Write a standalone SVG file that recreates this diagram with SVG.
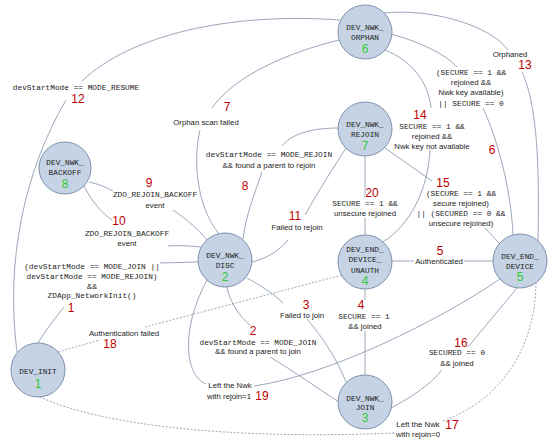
<svg xmlns="http://www.w3.org/2000/svg" width="550" height="446" viewBox="0 0 550 446">
<style>
.bg{fill:#fff}
.c{fill:none;stroke:#8391a8;stroke-width:0.8}
.d{stroke-dasharray:2,1.6}
.node circle{fill:#c5d3e5;stroke:#7e91ae;stroke-width:1}
.nl{font-family:"Liberation Mono",monospace;font-size:7.8px;fill:#1c1c1c;text-anchor:middle}
.ng{font-family:"Liberation Sans",sans-serif;font-size:12px;fill:#33cc33;text-anchor:middle}
.r{font-family:"Liberation Sans",sans-serif;font-size:12px;fill:#c00000;text-anchor:middle}
.m{font-family:"Liberation Mono",monospace;font-size:7.8px;fill:#1c1c1c;text-anchor:middle}
.p{font-family:"Liberation Sans",sans-serif;font-size:7.8px;fill:#1c1c1c;text-anchor:middle}
.lbl text{stroke:#fff;stroke-width:2;paint-order:stroke;stroke-linejoin:round}
</style>
<rect class="bg" x="0" y="0" width="550" height="446"/>
<g id="connectors">
  <!-- 12 -->
  <path class="c" d="M17,352 C5,260 25,170 66,100"/>
  <path class="c" d="M82,81 C130,35 230,12 340,20"/>
  <!-- 7 -->
  <path class="c" d="M339,40 C290,52 235,75 212,108"/>
  <path class="c" d="M200,130 C193,160 196,205 219,234"/>
  <!-- 8 -->
  <path class="c" d="M338,128 C310,128 290,135 282,146"/>
  <path class="c" d="M262,172 C254,195 246,215 243,239"/>
  <!-- 9 -->
  <path class="c" d="M89,182 C98,184 106,187 113,191"/>
  <path class="c" d="M173,210 C185,218 197,228 207,240"/>
  <!-- 10 -->
  <path class="c" d="M84,186 C92,202 102,213 112,220"/>
  <path class="c" d="M168,246 C180,245 191,246 201,247"/>
  <!-- 1 -->
  <path class="c" d="M38,343 C46,330 55,318 64,307"/>
  <path class="c" d="M160,263 L198,262"/>
  <!-- 18 -->
  <path class="c d" d="M58,352 L100,340"/>
  <path class="c d" d="M145,327 L342,275"/>
  <!-- 2 -->
  <path class="c" d="M227,287 C230,303 240,317 251,326"/>
  <path class="c" d="M270,357 C295,372 320,390 339,402"/>
  <!-- 3 -->
  <path class="c" d="M247,278 C262,286 275,295 283,303"/>
  <path class="c" d="M307,319 C325,340 338,362 346,382"/>
  <!-- 19 -->
  <path class="c" d="M500,279 C440,320 330,375 254,386"/>
  <path class="c" d="M206,384 C185,376 180,330 207,280"/>
  <!-- 11 -->
  <path class="c" d="M252,262 C268,258 280,250 288,240"/>
  <path class="c" d="M305,215 C318,192 333,168 346,148"/>
  <!-- 20 -->
  <path class="c" d="M365,156 V198"/>
  <path class="c" d="M365,218 V235"/>
  <!-- 14 -->
  <path class="c" d="M385,50 C410,60 428,80 431,108"/>
  <path class="c" d="M430,150 C428,190 410,225 383,242"/>
  <!-- 6 -->
  <path class="c" d="M391,34 C420,42 445,54 457,67"/>
  <path class="c" d="M483,108 C497,138 511,188 513,235"/>
  <!-- 13 -->
  <path class="c" d="M384,13 C430,8 490,25 508,50"/>
  <path class="c" d="M522,72 C535,100 540,150 538,241"/>
  <!-- 15 -->
  <path class="c" d="M385,148 L432,181"/>
  <path class="c" d="M485,228 L499,243"/>
  <!-- 5 -->
  <path class="c" d="M392,261 H414"/>
  <path class="c" d="M464,261 H493"/>
  <!-- 4 -->
  <path class="c" d="M365,289 V300"/>
  <path class="c" d="M365,331 V375"/>
  <!-- 16 -->
  <path class="c" d="M391,408 C410,398 430,385 442,370"/>
  <path class="c" d="M468,347 L517,288"/>
  <!-- 17 -->
  <path class="c d" d="M40,397 C100,425 230,440 395,433"/>
  <path class="c d" d="M443,421 C500,400 535,350 536,283"/>
</g>
<g id="labels" class="lbl">
  <text class="m" x="76" y="90">devStartMode == MODE_RESUME</text>
  <text class="r" x="78" y="103">12</text>
  <text class="r" x="227" y="111">7</text>
  <text class="p" x="206" y="125">Orphan scan failed</text>
  <text class="m" x="269" y="157">devStartMode == MODE_REJOIN</text>
  <text class="p" x="269" y="168">&amp;&amp; found a parent to rejoin</text>
  <text class="r" x="245" y="190">8</text>
  <text class="r" x="149" y="187">9</text>
  <text class="m" x="155" y="197">ZDO_REJOIN_BACKOFF</text>
  <text class="p" x="155" y="208">event</text>
  <text class="r" x="119" y="225">10</text>
  <text class="m" x="127" y="236">ZDO_REJOIN_BACKOFF</text>
  <text class="p" x="127" y="246">event</text>
  <text class="m" x="92" y="269">(devStartMode == MODE_JOIN ||</text>
  <text class="m" x="92" y="279">devStartMode == MODE_REJOIN)</text>
  <text class="p" x="92" y="289">&amp;&amp;</text>
  <text class="m" x="92" y="298">ZDApp_NetworkInit()</text>
  <text class="r" x="71" y="312">1</text>
  <text class="p" x="124" y="336">Authentication failed</text>
  <text class="r" x="110" y="348">18</text>
  <text class="r" x="253" y="335">2</text>
  <text class="m" x="258" y="345">devStartMode == MODE_JOIN</text>
  <text class="p" x="258" y="354">&amp;&amp; found a parent to join</text>
  <text class="r" x="306" y="309">3</text>
  <text class="p" x="302" y="318">Failed to join</text>
  <text class="p" x="230" y="388">Left the Nwk</text>
  <text class="p" x="229" y="399">with rejoin=1</text>
  <text class="r" x="262" y="400">19</text>
  <text class="r" x="295" y="220">11</text>
  <text class="p" x="297" y="230">Failed to rejoin</text>
  <text class="r" x="372" y="197">20</text>
  <text class="m" x="365" y="206">SECURE == 1 &amp;&amp;</text>
  <text class="p" x="365" y="216">unsecure rejoined</text>
  <text class="r" x="420" y="119">14</text>
  <text class="m" x="432" y="129">SECURE == 1 &amp;&amp;</text>
  <text class="p" x="432" y="139">rejoined &amp;&amp;</text>
  <text class="p" x="432" y="149">Nwk key not available</text>
  <text class="p" x="510" y="57">Orphaned</text>
  <text class="r" x="525" y="69">13</text>
  <text class="m" x="471" y="75">(SECURE == 1 &amp;&amp;</text>
  <text class="p" x="471" y="85">rejoined &amp;&amp;</text>
  <text class="p" x="471" y="95">Nwk key available)</text>
  <text class="m" x="471" y="106">|| SECURE == 0</text>
  <text class="r" x="492" y="154">6</text>
  <text class="r" x="443" y="187">15</text>
  <text class="m" x="461" y="196">(SECURE == 1 &amp;&amp;</text>
  <text class="p" x="461" y="206">secure rejoined)</text>
  <text class="m" x="461" y="216">|| (SECURED == 0 &amp;&amp;</text>
  <text class="p" x="461" y="226">unsecure rejoined)</text>
  <text class="r" x="440" y="255">5</text>
  <text class="p" x="439" y="264">Authenticated</text>
  <text class="r" x="361" y="309">4</text>
  <text class="m" x="364" y="319">SECURE == 1</text>
  <text class="p" x="365" y="329">&amp;&amp; joined</text>
  <text class="r" x="461" y="347">16</text>
  <text class="m" x="457" y="355">SECURED == 0</text>
  <text class="p" x="457" y="366">&amp;&amp; joined</text>
  <text class="p" x="418" y="427">Left the Nwk</text>
  <text class="p" x="418" y="437">with rejoin=0</text>
  <text class="r" x="452" y="429">17</text>
</g>
<g id="node-orphan" class="node">
  <circle cx="365" cy="32" r="27"/>
  <text class="nl" x="365" y="30">DEV_NWK_</text>
  <text class="nl" x="365" y="40">ORPHAN</text>
  <text class="ng" x="365" y="53">6</text>
</g>
<g id="node-rejoin" class="node">
  <circle cx="365" cy="129" r="27"/>
  <text class="nl" x="365" y="127">DEV_NWK_</text>
  <text class="nl" x="365" y="137">REJOIN</text>
  <text class="ng" x="365" y="150">7</text>
</g>
<g id="node-backoff" class="node">
  <circle cx="65" cy="168" r="26"/>
  <text class="nl" x="65" y="165">DEV_NWK_</text>
  <text class="nl" x="65" y="175">BACKOFF</text>
  <text class="ng" x="65" y="188">8</text>
</g>
<g id="node-disc" class="node">
  <circle cx="225" cy="260" r="27"/>
  <text class="nl" x="225" y="258">DEV_NWK_</text>
  <text class="nl" x="225" y="268">DISC</text>
  <text class="ng" x="225" y="281">2</text>
</g>
<g id="node-unauth" class="node">
  <circle cx="365" cy="262" r="27"/>
  <text class="nl" x="365" y="252">DEV_END_</text>
  <text class="nl" x="365" y="262">DEVICE_</text>
  <text class="nl" x="365" y="273">UNAUTH</text>
  <text class="ng" x="365" y="285">4</text>
</g>
<g id="node-enddevice" class="node">
  <circle cx="520" cy="261" r="27"/>
  <text class="nl" x="520" y="259">DEV_END_</text>
  <text class="nl" x="520" y="269">DEVICE</text>
  <text class="ng" x="520" y="281">5</text>
</g>
<g id="node-init" class="node">
  <circle cx="38" cy="370" r="27"/>
  <text class="nl" x="38" y="374">DEV_INIT</text>
  <text class="ng" x="38" y="388">1</text>
</g>
<g id="node-join" class="node">
  <circle cx="365" cy="402" r="27"/>
  <text class="nl" x="365" y="401">DEV_NWK_</text>
  <text class="nl" x="365" y="410">JOIN</text>
  <text class="ng" x="365" y="422">3</text>
</g>
</svg>
